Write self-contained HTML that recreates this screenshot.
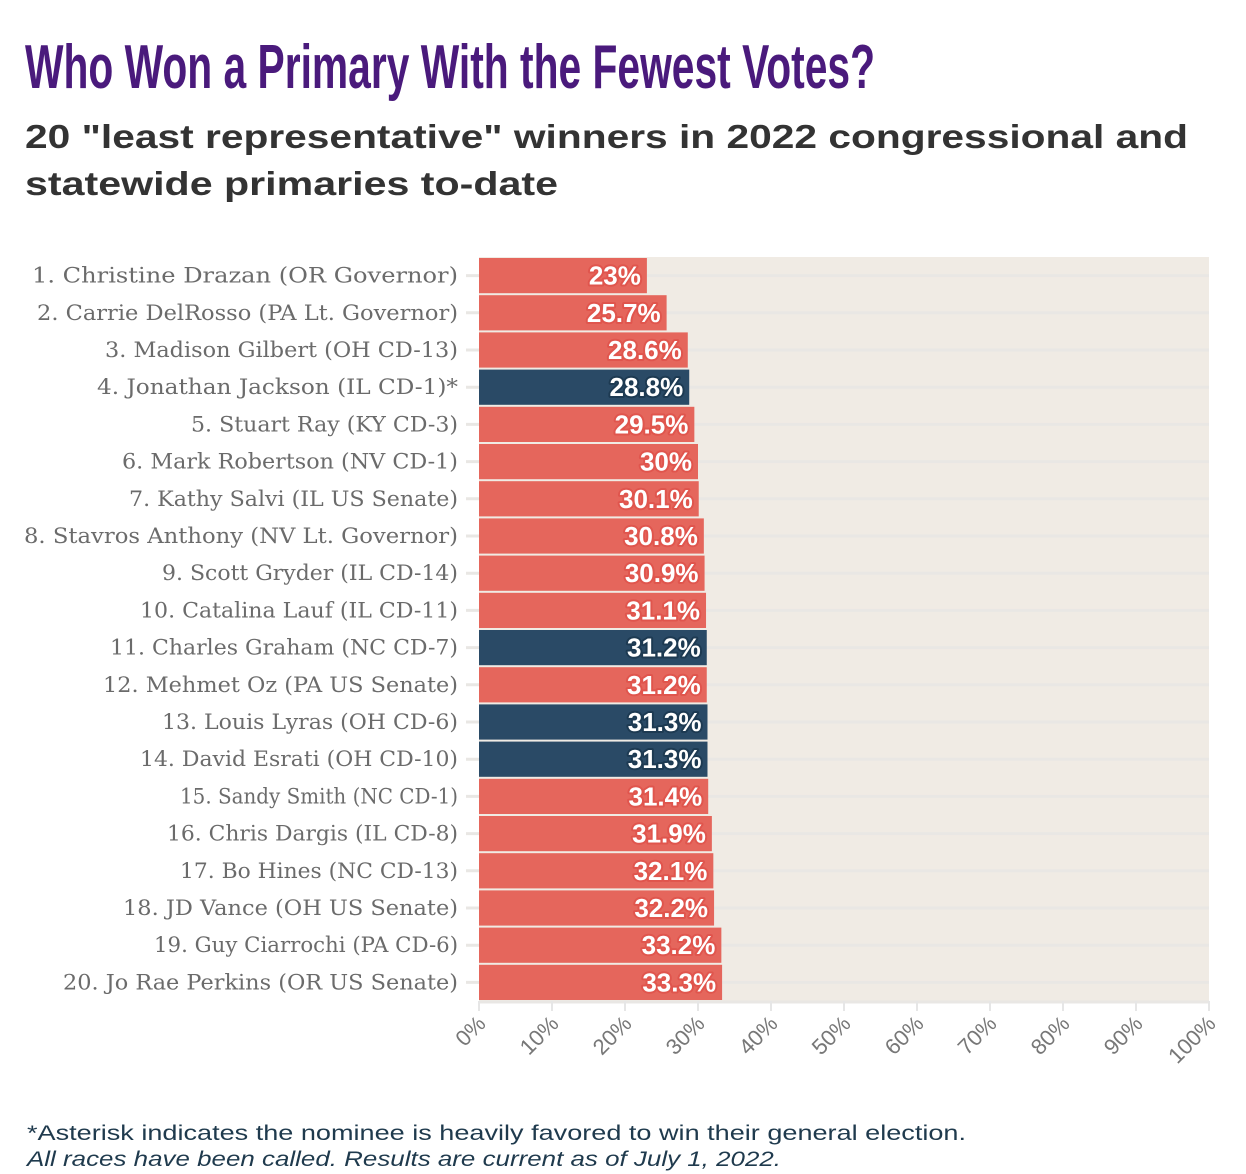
<!DOCTYPE html>
<html><head><meta charset="utf-8"><style>
html,body{margin:0;padding:0;background:#fff;}
svg{display:block;}
</style></head><body>
<svg width="1246" height="1174" xmlns="http://www.w3.org/2000/svg">
<text x="25" y="88" font-family="Liberation Sans Narrow, Liberation Sans, sans-serif" font-weight="bold" font-size="62" fill="#4a1a7c" textLength="850" lengthAdjust="spacingAndGlyphs">Who Won a Primary With the Fewest Votes?</text>
<text x="25" y="148" font-family="Liberation Sans, sans-serif" font-weight="bold" font-size="33" fill="#333" textLength="1163" lengthAdjust="spacingAndGlyphs">20 "least representative" winners in 2022 congressional and</text>
<text x="25" y="195" font-family="Liberation Sans, sans-serif" font-weight="bold" font-size="33" fill="#333" textLength="533" lengthAdjust="spacingAndGlyphs">statewide primaries to-date</text>
<rect x="479" y="257" width="730" height="744" fill="#f0ebe4"/>
<g id="grid"></g>
<g id="bars"></g>
<g id="axis"></g>
<text x="27" y="1140" font-family="Liberation Sans, sans-serif" font-size="21" fill="#1f3a4d" textLength="939" lengthAdjust="spacingAndGlyphs">*Asterisk indicates the nominee is heavily favored to win their general election.</text>
<text x="27" y="1166" font-family="Liberation Sans, sans-serif" font-style="italic" font-size="21" fill="#1f3a4d" textLength="754" lengthAdjust="spacingAndGlyphs">All races have been called. Results are current as of July 1, 2022.</text>
</svg>
<script>
const names=["1. Christine Drazan (OR Governor)","2. Carrie DelRosso (PA Lt. Governor)","3. Madison Gilbert (OH CD-13)","4. Jonathan Jackson (IL CD-1)*","5. Stuart Ray (KY CD-3)","6. Mark Robertson (NV CD-1)","7. Kathy Salvi (IL US Senate)","8. Stavros Anthony (NV Lt. Governor)","9. Scott Gryder (IL CD-14)","10. Catalina Lauf (IL CD-11)","11. Charles Graham (NC CD-7)","12. Mehmet Oz (PA US Senate)","13. Louis Lyras (OH CD-6)","14. David Esrati (OH CD-10)","15. Sandy Smith (NC CD-1)","16. Chris Dargis (IL CD-8)","17. Bo Hines (NC CD-13)","18. JD Vance (OH US Senate)","19. Guy Ciarrochi (PA CD-6)","20. Jo Rae Perkins (OR US Senate)"];
const values=[23,25.7,28.6,28.8,29.5,30,30.1,30.8,30.9,31.1,31.2,31.2,31.3,31.3,31.4,31.9,32.1,32.2,33.2,33.3];
const parties=["R","R","R","D","R","R","R","R","R","R","D","R","D","D","R","R","R","R","R","R"];
const ticks=[0,10,20,30,40,50,60,70,80,90,100];
const labelW=[426,421,353,361,267,336,329,434,296,318,348,355,296,318,278,291,278,335,304,395];
const NS="http://www.w3.org/2000/svg";
const X0=479,X1=1209,Y0=257,Y1=1001;
const x=v=>X0+(v/100)*(X1-X0);
const band=(Y1-Y0)/names.length;
const y=i=>Y0+i*band;
function mk(t,a,p){const e=document.createElementNS(NS,t);for(const k in a)e.setAttribute(k,a[k]);p.appendChild(e);return e;}
const grid=document.getElementById('grid'),bars=document.getElementById('bars'),axis=document.getElementById('axis');
names.forEach((n,i)=>{
 const cy=y(i)+band/2;
 const gl=mk('line',{x1:466,x2:X1,y1:cy,y2:cy,stroke:'#e9e7e4','stroke-width':3},grid);
 
 
 const col=parties[i]==='D'?'#2a4a66':'#e5665c';
 const r=mk('rect',{x:X0,y:y(i)+1,width:x(values[i])-X0,height:band-2,fill:col},bars);
 
 
 const lab=mk('text',{x:458,y:cy+7,'text-anchor':'end','font-family':'DejaVu Serif, serif','font-size':21,fill:'#6b6b6b',textLength:labelW[i],lengthAdjust:'spacingAndGlyphs'},bars);
 lab.textContent=n;
 
 
 const vt=mk('text',{x:x(values[i])-6,y:cy+9,'text-anchor':'end','font-family':'Liberation Sans, sans-serif','font-weight':'bold','font-size':26,fill:'#fff',stroke:parties[i]==='D'?'#1d3a52':'#e0554d','stroke-width':4,'paint-order':'stroke','stroke-linejoin':'round'},bars);
 vt.textContent=values[i]+'%';
 
 
});
const base=mk('line',{x1:X0,x2:X1,y1:Y1+1,y2:Y1+1,stroke:'#e9e7e4','stroke-width':3},axis);


ticks.forEach(t=>{
 const tk=mk('line',{x1:x(t),x2:x(t),y1:Y1,y2:Y1+10,stroke:'#e6e6e6','stroke-width':2},axis);
 
 
 const tl=mk('text',{x:x(t)+8,y:Y1+24,'text-anchor':'end','font-family':'Liberation Sans, sans-serif','font-size':22,fill:'#777',transform:`rotate(-45 ${x(t)+8} ${Y1+24})`},axis);
 tl.textContent=t+'%';
 
 
});
</script>
</body></html>
